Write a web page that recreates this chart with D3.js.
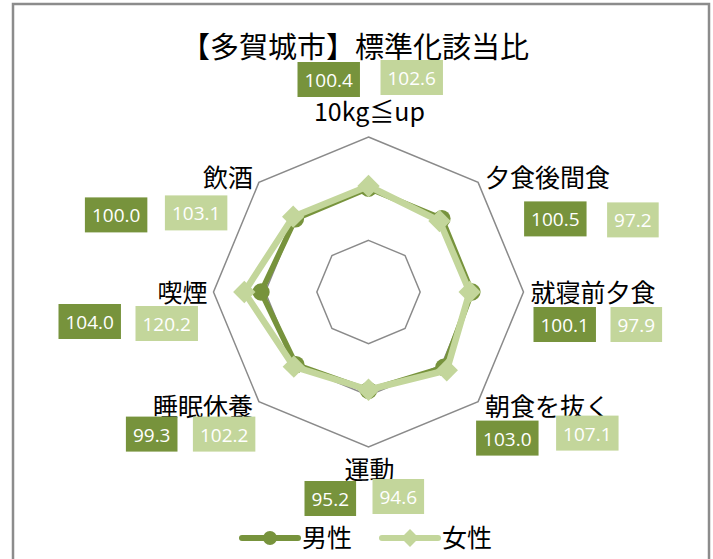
<!DOCTYPE html>
<html>
<head>
<meta charset="utf-8">
<script src="https://cdn.jsdelivr.net/npm/d3@7"></script>
<style>
  body { margin: 0; background: #fff; }
  svg { display: block; }
</style>
</head>
<body>
<svg id="chart"></svg>
<script>
// chart data
var title = "【多賀城市】標準化該当比";
var categories = ["10kg≦up", "夕食後間食", "就寝前夕食", "朝食を抜く", "運動", "睡眠休養", "喫煙", "飲酒"];
var maleValues = [100.4, 100.5, 100.1, 103.0, 95.2, 99.3, 104.0, 100.0];
var femaleValues = [102.6, 97.2, 97.9, 107.1, 94.6, 102.2, 120.2, 103.1];
var seriesNames = ["男性", "女性"];
var gridTicks = [50, 100, 150];

// label layout (offsets of the value boxes from each outer vertex)
var maleBoxOffset = [[-71, -75], [46, 19], [10, 15], [-2, 19], [-64, 34], [-133, 15], [-155, 12], [-174, 15]];
var femaleBoxOffset = [[12, -77], [129, 20], [87, 15], [78, 14], [4, 32], [-66, 15], [-78, 14], [-94, 13]];

var colors = { male: "#77933c", female: "#c3d69b" };
var width = 713, height = 559;
var cx = 368.5, cy = 292, R = 155;
var cjk = "'Noto Sans CJK JP', 'Noto Sans', sans-serif";
var numFont = "'Open Sans', 'Noto Sans', sans-serif";

var svg = d3.select("#chart")
    .attr("width", width)
    .attr("height", height);

// outer frame
svg.append("rect")
    .attr("x", 13).attr("y", 4)
    .attr("width", 696).attr("height", 570)
    .attr("fill", "none")
    .attr("stroke", "#8c8c8c")
    .attr("stroke-width", 2.5);

svg.append("text")
    .attr("x", 355).attr("y", 58)
    .attr("text-anchor", "middle")
    .style("font-family", cjk)
    .style("font-size", "29px")
    .attr("fill", "#000")
    .text(title);

var r = d3.scaleLinear().domain([0, 150]).range([0, R]);
var angle = d3.scalePoint().domain(d3.range(categories.length + 1)).range([0, 2 * Math.PI]);

function pt(i, v) {
    var a = angle(i);
    return [cx + r(v) * Math.sin(a), cy - r(v) * Math.cos(a)];
}

// marker shapes: circle and a square turned 45 degrees
var circleMark = d3.symbol().type(d3.symbolCircle).size(235)();
var diamondMark = d3.symbol().type(d3.symbolSquare).size(250)();

var g = svg.append("g");

// grid octagons
gridTicks.forEach(function (t) {
    g.append("path")
        .attr("d", d3.line()(categories.map(function (c, i) { return pt(i, t); })) + "Z")
        .attr("fill", "none")
        .attr("stroke", "#8a8a8a")
        .attr("stroke-width", 1.5);
});

var line = d3.line();

function drawSeries(values, color, mark, rot, lw) {
    var pts = values.map(function (v, i) { return pt(i, v); });
    g.append("path")
        .attr("d", line(pts) + "Z")
        .attr("fill", "none")
        .attr("stroke", color)
        .attr("stroke-width", lw)
        .attr("stroke-linejoin", "round");
    g.selectAll(null).data(pts).enter().append("path")
        .attr("transform", function (d) { return "translate(" + d[0] + "," + d[1] + ") rotate(" + rot + ")"; })
        .attr("d", mark)
        .attr("fill", color);
}

drawSeries(maleValues, colors.male, circleMark, 0, 5.5);
drawSeries(femaleValues, colors.female, diamondMark, 45, 6.5);

// category labels
categories.forEach(function (c, i) {
    var p = pt(i, 150);
    var s = Math.sin(angle(i)), co = Math.cos(angle(i));
    var anchor = Math.abs(s) < 0.01 ? "middle" : (s > 0 ? "start" : "end");
    var x = p[0] + (s > 0.01 ? 7 : s < -0.01 ? -6 : 1);
    var y;
    if (i === 0) y = 121;
    else if (co < -0.9) y = p[1] + 32;
    else if (co < -0.5) y = p[1] + 14;
    else if (co > 0.5) y = p[1] + 5;
    else y = p[1] + 10;
    svg.append("text")
        .attr("x", x).attr("y", y)
        .attr("text-anchor", anchor)
        .style("font-family", cjk)
        .style("font-size", "25px")
        .attr("fill", "#000")
        .text(c);
});

// value boxes
function drawBoxes(values, offsets, color) {
    values.forEach(function (v, i) {
        var p = pt(i, 150);
        var o = offsets[i];
        var grp = svg.append("g")
            .attr("transform", "translate(" + (p[0] + o[0]) + "," + (p[1] + o[1]) + ")");
        var rect = grp.append("rect").attr("fill", color).attr("height", 35);
        var t = grp.append("text")
            .attr("y", 25)
            .attr("fill", "#fff")
            .style("font-family", numFont)
            .style("font-size", "19px")
            .text(v.toFixed(1));
        var w = t.node().getComputedTextLength() + 14;
        rect.attr("width", w);
        t.attr("x", w / 2).attr("text-anchor", "middle");
    });
}
drawBoxes(maleValues, maleBoxOffset, colors.male);
drawBoxes(femaleValues, femaleBoxOffset, colors.female);

// legend
var legend = svg.append("g").attr("transform", "translate(242,538)");
[{ name: seriesNames[0], color: colors.male, mark: circleMark, rot: 0 },
 { name: seriesNames[1], color: colors.female, mark: diamondMark, rot: 45 }]
    .forEach(function (d, k) {
        var lg = legend.append("g").attr("transform", "translate(" + (k * 140) + ",0)");
        lg.append("line")
            .attr("x1", 0).attr("x2", 56)
            .attr("stroke", d.color).attr("stroke-width", 6)
            .attr("stroke-linecap", "round");
        lg.append("path")
            .attr("transform", "translate(28,0) rotate(" + d.rot + ") scale(0.8)")
            .attr("d", d.mark)
            .attr("fill", d.color);
        lg.append("text")
            .attr("x", 60).attr("y", 9)
            .style("font-family", cjk)
            .style("font-size", "25px")
            .attr("fill", "#000")
            .text(d.name);
    });
</script>
</body>
</html>
